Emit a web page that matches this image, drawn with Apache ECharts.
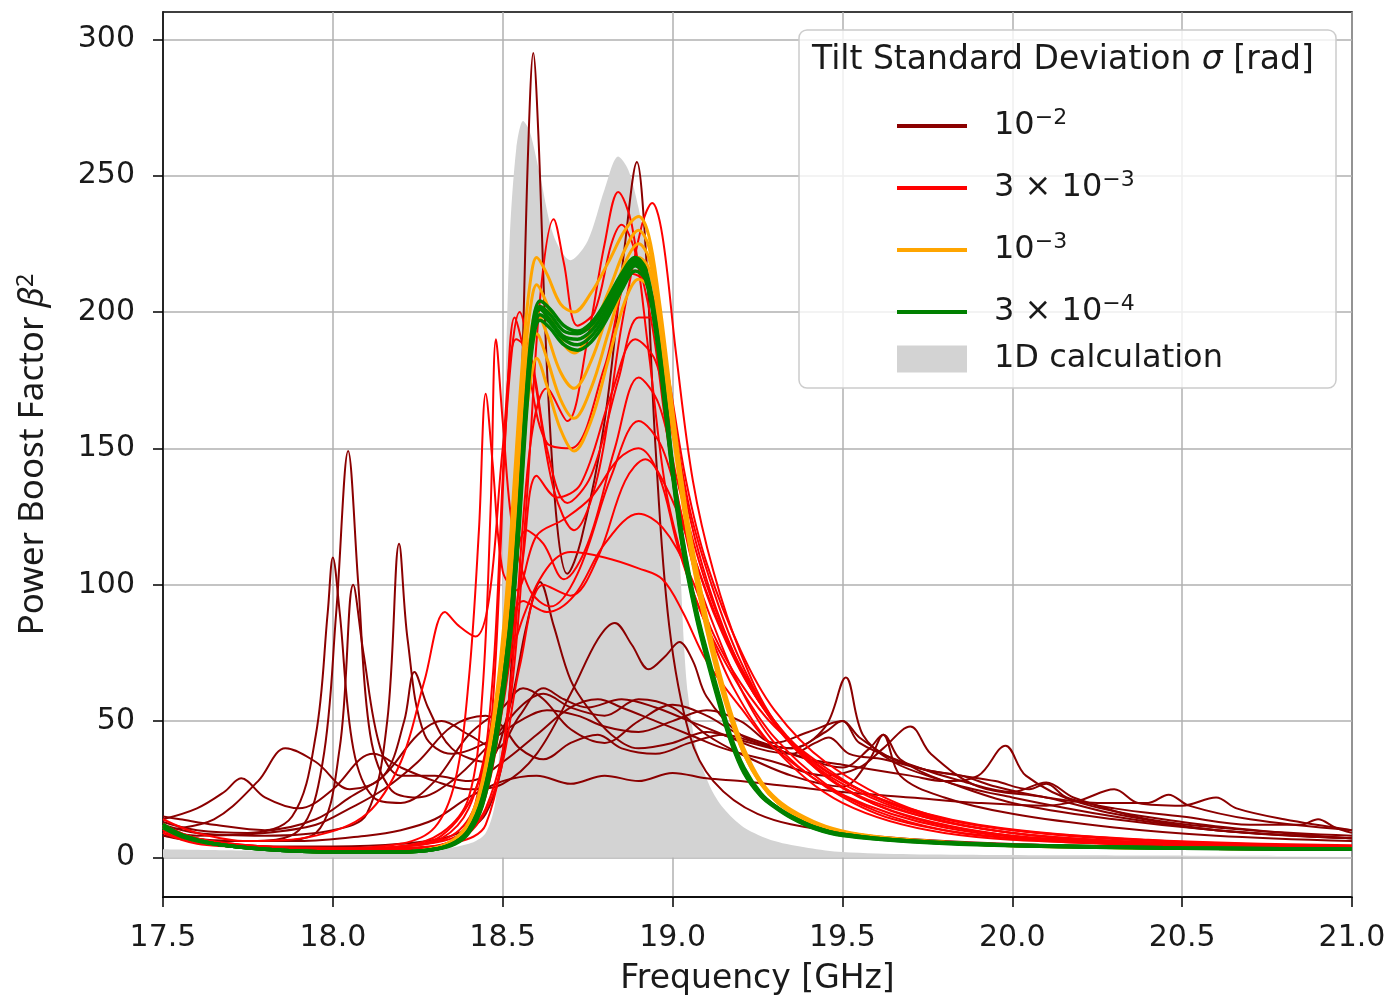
<!DOCTYPE html>
<html><head><meta charset="utf-8">
<script src="https://cdn.jsdelivr.net/npm/echarts@6/dist/echarts.min.js"></script>
<style>html,body{margin:0;padding:0;background:#fff}#c{width:1389px;height:998px}</style>
</head><body><div id="c"></div><script>
// ---- tick labels ----
const xTicks = [17.5,18.0,18.5,19.0,19.5,20.0,20.5,21.0];
const yTicks = [0,50,100,150,200,250,300];

// ---- 1D calculation (grey area) [GHz, beta^2] ----
const oneD = [[17.5,3],[17.8,2.5],[18.1,2.5],[18.3,3],[18.4,5],[18.45,9],[18.48,22],[18.495,60],[18.505,150],[18.52,225],[18.54,260],[18.56,270],[18.58,266],[18.61,250],[18.65,228],[18.70,219],[18.75,226],[18.80,245],[18.84,257],[18.87,252],[18.90,238],[18.93,218],[18.96,198],[18.99,170],[19.01,140],[19.025,100],[19.035,75],[19.045,60],[19.07,40],[19.11,26],[19.15,18],[19.21,11],[19.3,6],[19.4,3.5],[19.5,2],[19.7,1.2],[20.2,0.8],[21.0,0.5]];

// ---- sigma = 1e-2 (dark red) ----
const d1 = [[17.5,9],[17.6,6],[17.8,4],[18.0,4],[18.2,5],[18.35,8],[18.45,16],[18.51,45],[18.55,150],[18.575,260],[18.59,295],[18.605,265],[18.63,180],[18.66,122],[18.69,104],[18.73,116],[18.8,160],[18.86,225],[18.895,255],[18.92,225],[18.95,150],[18.99,85],[19.05,45],[19.12,28],[19.25,16],[19.45,10],[19.8,6],[20.3,4],[21.0,3]];
const d2 = [[17.5,11],[17.6,7],[17.75,6],[17.9,10],[17.97,35],[18.01,90],[18.045,149],[18.075,100],[18.11,45],[18.17,25],[18.25,22],[18.35,28],[18.45,40],[18.55,55],[18.62,60],[18.7,55],[18.8,52],[18.9,58],[19.0,55],[19.1,45],[19.2,38],[19.35,30],[19.5,26],[19.58,36],[19.62,45],[19.67,30],[19.8,22],[20.0,16],[20.3,11],[20.6,8],[21.0,6]];
const d3 = [[17.5,13],[17.6,10],[17.75,9],[17.88,15],[17.95,45],[17.985,90],[18.0,110],[18.02,90],[18.06,40],[18.12,22],[18.2,20],[18.3,28],[18.4,45],[18.5,55],[18.56,62],[18.62,58],[18.7,47],[18.8,42],[18.9,50],[19.0,56],[19.1,52],[19.2,45],[19.35,40],[19.45,48],[19.51,66],[19.56,45],[19.65,35],[19.8,28],[20.0,20],[20.3,14],[20.6,10],[21.0,7]];
const d4 = [[17.5,8],[17.6,6],[17.8,6],[17.95,9],[18.02,40],[18.06,100],[18.09,75],[18.14,40],[18.2,30],[18.3,30],[18.4,28],[18.5,35],[18.6,45],[18.7,55],[18.78,58],[18.85,55],[18.95,50],[19.05,45],[19.15,40],[19.3,35],[19.45,30],[19.55,33],[19.62,40],[19.7,48],[19.76,38],[19.9,26],[20.1,22],[20.3,16],[20.6,10],[21.0,7]];
const d5 = [[17.5,12],[17.6,9],[17.8,8],[18.0,10],[18.1,16],[18.16,50],[18.195,115],[18.22,80],[18.27,45],[18.35,38],[18.45,42],[18.55,50],[18.63,54],[18.72,52],[18.8,48],[18.9,46],[19.0,50],[19.1,54],[19.2,50],[19.3,42],[19.4,46],[19.5,50],[19.55,42],[19.7,34],[19.85,28],[20.0,24],[20.1,27.5],[20.18,22],[20.4,14],[20.7,10],[21.0,8]];
const d6 = [[17.5,10],[17.65,14],[17.78,28],[17.86,40],[17.95,35],[18.05,25],[18.15,30],[18.21,50],[18.24,68],[18.28,55],[18.35,40],[18.45,35],[18.52,55],[18.57,85],[18.61,101],[18.65,85],[18.7,65],[18.75,55],[18.82,45],[18.9,40],[19.0,42],[19.1,46],[19.2,43],[19.35,38],[19.5,33],[19.58,40],[19.62,45],[19.67,36],[19.8,28],[20.0,22],[20.3,15],[20.6,10],[21.0,7]];
const d7 = [[17.5,14],[17.6,18],[17.68,24],[17.73,29],[17.8,22],[17.9,18],[18.0,25],[18.08,36],[18.12,38],[18.2,33],[18.3,28],[18.4,25],[18.5,27],[18.6,38],[18.7,60],[18.78,80],[18.83,86],[18.88,78],[18.93,69],[18.98,74],[19.02,79],[19.06,72],[19.1,59],[19.2,45],[19.3,40],[19.4,36],[19.5,34],[19.6,32],[19.7,30],[19.8,28],[19.9,30],[19.98,41],[20.04,30],[20.2,20],[20.5,13],[20.8,9],[21.0,7]];
const d8 = [[17.5,8],[17.7,6],[17.9,6],[18.1,8],[18.2,10],[18.3,14],[18.4,22],[18.5,28],[18.6,30],[18.7,27],[18.8,30],[18.9,28],[19.0,31],[19.1,29],[19.2,28],[19.35,26],[19.5,24],[19.7,22],[19.9,20],[20.1,19],[20.2,21],[20.3,25],[20.37,20],[20.5,19],[20.6,22],[20.66,18],[20.8,14],[21.0,10]];
const d9 = [[17.5,15],[17.55,14],[17.65,12],[17.8,10],[17.95,14],[18.05,22],[18.15,30],[18.25,45],[18.32,50],[18.4,45],[18.48,40],[18.55,52],[18.62,62],[18.68,58],[18.75,55],[18.85,58],[18.95,55],[19.05,50],[19.15,45],[19.25,40],[19.35,38],[19.42,42],[19.46,44],[19.52,38],[19.62,36],[19.75,32],[19.85,30],[19.95,28],[20.05,25],[20.1,27],[20.16,22],[20.3,18],[20.5,15],[20.7,12],[20.85,12],[20.9,14],[20.95,11],[21.0,9]];
const d10 = [[17.5,10],[17.6,8],[17.8,9],[17.95,12],[18.05,18],[18.15,25],[18.25,35],[18.35,48],[18.45,52],[18.5,48],[18.55,40],[18.62,36],[18.7,42],[18.78,45],[18.85,40],[18.95,38],[19.05,42],[19.15,45],[19.25,42],[19.35,40],[19.45,46],[19.5,50],[19.55,44],[19.65,36],[19.75,32],[19.85,30],[19.95,26],[20.1,22],[20.25,20],[20.4,20],[20.46,23],[20.52,19],[20.7,14],[21.0,10]];

// ---- sigma = 3e-3 (red) ----
const r1 = [[17.5,10],[17.6,6],[17.8,4],[18.0,3.5],[18.2,5],[18.3,11],[18.36,28],[18.4,65],[18.43,120],[18.45,170],[18.47,145],[18.5,105],[18.54,98],[18.6,118],[18.68,124],[18.76,132],[18.84,146],[18.9,150],[18.96,140],[19.02,112],[19.1,85],[19.2,62],[19.3,44],[19.45,27],[19.6,17],[19.8,10],[20.0,7],[20.5,4],[21.0,3]];
const r2 = [[17.5,9],[17.6,5.5],[17.8,3.5],[18.0,3],[18.2,4],[18.32,9],[18.4,22],[18.44,60],[18.465,130],[18.48,190],[18.5,160],[18.53,120],[18.58,98],[18.64,92],[18.72,104],[18.82,140],[18.9,160],[18.97,150],[19.05,115],[19.15,82],[19.25,58],[19.4,35],[19.55,22],[19.75,13],[20.0,8],[20.5,4.5],[21.0,3.5]];
const r3 = [[17.5,11],[17.6,6],[17.8,3.5],[18.0,2.5],[18.2,3],[18.35,6],[18.45,18],[18.52,55],[18.57,130],[18.61,205],[18.65,234],[18.68,218],[18.72,195],[18.77,200],[18.82,225],[18.85,232],[18.89,222],[18.94,195],[18.99,150],[19.05,112],[19.1,92],[19.2,62],[19.3,42],[19.45,26],[19.65,14],[20.0,7],[20.5,4],[21.0,3]];
const r4 = [[17.5,10],[17.6,6],[17.8,3.5],[18.0,2.5],[18.2,3],[18.35,5],[18.45,12],[18.52,60],[18.58,150],[18.63,172],[18.69,160],[18.75,190],[18.8,225],[18.84,244],[18.88,232],[18.93,185],[18.98,135],[19.04,105],[19.1,85],[19.18,62],[19.3,40],[19.5,20],[19.8,9],[20.3,5],[21.0,3]];
const r5 = [[17.5,12],[17.6,7],[17.8,4],[18.0,3],[18.2,4],[18.35,8],[18.42,20],[18.47,65],[18.51,160],[18.55,200],[18.59,178],[18.65,135],[18.71,120],[18.78,140],[18.85,195],[18.91,232],[18.94,240],[18.97,228],[19.01,185],[19.06,138],[19.12,105],[19.2,75],[19.3,50],[19.45,30],[19.65,17],[20.0,8],[20.5,4.5],[21.0,3.5]];
const r6 = [[17.5,14],[17.6,9],[17.75,6],[17.95,8],[18.1,16],[18.2,35],[18.27,65],[18.33,90],[18.37,85],[18.42,81],[18.46,95],[18.5,150],[18.54,190],[18.58,185],[18.63,150],[18.69,130],[18.76,140],[18.84,175],[18.9,198],[18.94,198],[18.99,170],[19.05,128],[19.12,98],[19.2,72],[19.3,50],[19.45,32],[19.7,17],[20.0,9],[20.5,5],[21.0,3.5]];
const r7 = [[17.5,9],[17.6,5.5],[17.8,3.5],[18.0,3],[18.2,4],[18.32,8],[18.42,25],[18.5,62],[18.56,88],[18.63,106],[18.7,112],[18.8,110],[18.9,106],[18.97,102],[19.03,90],[19.1,72],[19.2,55],[19.3,40],[19.5,23],[19.8,11],[20.2,6],[21.0,3.5]];
const r8 = [[17.5,10],[17.6,6],[17.8,3.5],[18.0,2.5],[18.2,3],[18.35,6],[18.45,30],[18.52,90],[18.57,120],[18.62,115],[18.68,102],[18.75,115],[18.83,150],[18.9,176],[18.96,166],[19.02,135],[19.1,100],[19.2,70],[19.35,42],[19.5,27],[19.8,13],[20.3,6],[21.0,3.5]];
const r9 = [[17.5,11],[17.6,6.5],[17.8,4],[18.0,3],[18.2,3.5],[18.38,7],[18.48,26],[18.55,70],[18.62,100],[18.7,96],[18.78,110],[18.86,138],[18.92,146],[18.98,136],[19.05,115],[19.12,90],[19.22,64],[19.35,42],[19.5,28],[19.8,14],[20.3,7],[21.0,4]];
const r10 = [[17.5,10],[17.6,6],[17.8,3.5],[18.0,2.5],[18.2,3],[18.35,6],[18.43,15],[18.5,55],[18.56,110],[18.6,140],[18.66,132],[18.73,137],[18.82,170],[18.89,190],[18.95,182],[19.0,155],[19.07,115],[19.15,84],[19.25,58],[19.4,35],[19.6,20],[20.0,9],[20.5,5],[21.0,3.5]];
const r11 = [[17.5,12],[17.6,7],[17.8,4],[18.0,3],[18.2,4],[18.35,7],[18.42,14],[18.47,55],[18.51,160],[18.535,198],[18.57,182],[18.63,152],[18.7,150],[18.8,180],[18.88,214],[18.93,210],[18.98,182],[19.04,138],[19.1,108],[19.2,76],[19.3,54],[19.45,35],[19.7,18],[20.0,10],[20.5,5.5],[21.0,4]];
const r12 = [[17.5,9],[17.6,5],[17.8,3.5],[18.0,3],[18.2,4],[18.32,7],[18.4,18],[18.46,45],[18.51,78],[18.56,94],[18.63,90],[18.71,96],[18.8,115],[18.9,126],[18.97,121],[19.05,104],[19.12,82],[19.2,64],[19.3,48],[19.45,33],[19.6,22],[19.9,12],[20.4,6.5],[21.0,4.5]];

// ---- sigma = 1e-3 (orange) ----
const o1 = [[17.5,12],[17.56,8],[17.65,5],[17.8,3],[18.0,2],[18.2,2],[18.3,3.5],[18.36,7],[18.4,13],[18.44,28],[18.48,58],[18.51,95],[18.535,140],[18.56,185],[18.58,210],[18.6,220],[18.63,214],[18.67,203],[18.71,200],[18.76,207],[18.81,218],[18.86,230],[18.9,235],[18.93,228],[18.96,205],[18.99,175],[19.02,145],[19.05,120],[19.09,94],[19.13,72],[19.17,54],[19.21,40],[19.26,28],[19.31,21],[19.37,16],[19.45,11.5],[19.55,8.5],[19.7,6.5],[20.0,4.5],[20.5,3.5],[21.0,3]];
const o2 = [[17.5,11],[17.56,7.5],[17.65,5],[17.8,3],[18.0,2],[18.2,2],[18.3,3.3],[18.36,6.5],[18.4,12],[18.44,26],[18.48,55],[18.51,90],[18.535,133],[18.56,175],[18.58,200],[18.6,210],[18.63,203],[18.67,190],[18.71,185],[18.76,193],[18.81,207],[18.86,223],[18.9,230],[18.93,224],[18.96,202],[18.99,172],[19.02,142],[19.05,117],[19.09,92],[19.13,70],[19.17,53],[19.21,39],[19.26,27.5],[19.31,20.5],[19.37,15.5],[19.45,11],[19.55,8.3],[19.7,6.3],[20.0,4.4],[20.5,3.4],[21.0,3]];
const o3 = [[17.5,12],[17.56,8],[17.65,5],[17.8,3],[18.0,2],[18.2,2],[18.3,3.4],[18.36,6.8],[18.4,12.5],[18.44,27],[18.48,56],[18.51,90],[18.535,130],[18.56,168],[18.58,190],[18.6,200],[18.63,192],[18.67,178],[18.71,172],[18.76,182],[18.81,200],[18.86,218],[18.9,225],[18.93,220],[18.96,200],[18.99,171],[19.02,142],[19.05,117],[19.09,92],[19.13,70],[19.17,53],[19.21,39],[19.26,27.5],[19.31,20.5],[19.37,15.5],[19.45,11],[19.55,8.3],[19.7,6.3],[20.0,4.4],[20.5,3.4],[21.0,3]];
const o4 = [[17.5,11],[17.56,7.5],[17.65,5],[17.8,3],[18.0,2],[18.2,2],[18.3,3.3],[18.36,6.5],[18.4,12],[18.44,25],[18.48,52],[18.51,85],[18.535,124],[18.56,160],[18.58,182],[18.6,192],[18.63,183],[18.67,168],[18.71,161],[18.76,172],[18.81,192],[18.86,212],[18.9,220],[18.93,216],[18.96,197],[18.99,169],[19.02,140],[19.05,115],[19.09,90],[19.13,69],[19.17,52],[19.21,38],[19.26,27],[19.31,20],[19.37,15],[19.45,10.8],[19.55,8.2],[19.7,6.2],[20.0,4.3],[20.5,3.4],[21.0,3]];
const o5 = [[17.5,12],[17.56,8],[17.65,5],[17.8,3],[18.0,2],[18.2,2],[18.3,3.3],[18.36,6.5],[18.4,12],[18.44,25],[18.48,50],[18.51,82],[18.535,118],[18.56,152],[18.58,173],[18.6,183],[18.63,173],[18.67,157],[18.71,149],[18.76,160],[18.81,182],[18.86,204],[18.9,212],[18.93,209],[18.96,192],[18.99,166],[19.02,138],[19.05,114],[19.09,89],[19.13,68],[19.17,51],[19.21,38],[19.26,27],[19.31,20],[19.37,15],[19.45,10.8],[19.55,8.2],[19.7,6.2],[20.0,4.3],[20.5,3.4],[21.0,3]];

// ---- sigma = 3e-4 (green) ----
const g1 = [[17.5,12],[17.56,8],[17.65,5],[17.8,3],[18.0,2],[18.2,2],[18.3,3],[18.36,5.5],[18.4,10],[18.44,21],[18.48,45],[18.52,82],[18.545,120],[18.57,168],[18.59,194],[18.61,201],[18.64,197],[18.68,191],[18.72,190],[18.76,193],[18.8,200],[18.85,211],[18.89,218],[18.92,214],[18.95,195],[18.98,165],[19.0,142],[19.03,115],[19.07,90],[19.1,75],[19.14,57],[19.17,44],[19.21,32],[19.26,23],[19.3,19],[19.35,15],[19.42,11],[19.5,8.5],[19.7,6],[20.0,4.5],[20.5,3.5],[21.0,3]];
const g2 = [[17.5,11],[17.56,7.5],[17.65,5],[17.8,3],[18.0,2],[18.2,2],[18.3,3],[18.36,5],[18.4,9],[18.44,19],[18.48,42],[18.52,78],[18.545,115],[18.57,163],[18.59,190],[18.61,197],[18.64,194],[18.68,188],[18.72,186],[18.76,189],[18.8,196],[18.85,208],[18.89,215],[18.92,212],[18.95,193],[18.98,162],[19.0,140],[19.03,113],[19.07,88],[19.1,73],[19.14,55],[19.17,43],[19.21,31],[19.26,22.5],[19.3,18.5],[19.35,14.5],[19.42,10.5],[19.5,8],[19.7,5.8],[20.0,4.3],[20.5,3.4],[21.0,3]];
const g3 = [[17.5,12],[17.56,8],[17.65,5],[17.8,3],[18.0,2],[18.2,2],[18.3,3],[18.36,5.5],[18.4,10],[18.44,22],[18.48,46],[18.52,84],[18.545,123],[18.57,171],[18.59,197],[18.61,204],[18.64,201],[18.68,195],[18.72,193],[18.76,196],[18.8,203],[18.85,214],[18.89,220],[18.92,216],[18.95,197],[18.98,167],[19.0,144],[19.03,117],[19.07,91],[19.1,76],[19.14,58],[19.17,45],[19.21,33],[19.26,23.5],[19.3,19],[19.35,15],[19.42,11],[19.5,8.5],[19.7,6],[20.0,4.5],[20.5,3.5],[21.0,3]];
const g4 = [[17.5,11],[17.56,7.5],[17.65,5],[17.8,3],[18.0,2],[18.2,2],[18.3,3],[18.36,5.2],[18.4,9.5],[18.44,20],[18.48,44],[18.52,80],[18.545,118],[18.57,166],[18.59,192],[18.61,199],[18.64,196],[18.68,190],[18.72,188],[18.76,191],[18.8,198],[18.85,210],[18.89,217],[18.92,213],[18.95,194],[18.98,164],[19.0,141],[19.03,114],[19.07,89],[19.1,74],[19.14,56],[19.17,43.5],[19.21,31.5],[19.26,22.8],[19.3,18.7],[19.35,14.7],[19.42,10.7],[19.5,8.2],[19.7,5.9],[20.0,4.4],[20.5,3.4],[21.0,3]];
const g5 = [[17.5,12],[17.56,8],[17.65,5],[17.8,3],[18.0,2],[18.2,2],[18.3,3],[18.36,5.6],[18.4,10.2],[18.44,21.5],[18.48,46],[18.52,83],[18.545,121],[18.57,169],[18.59,195],[18.61,202],[18.64,199],[18.68,193],[18.72,192],[18.76,195],[18.8,202],[18.85,213],[18.89,219],[18.92,215],[18.95,196],[18.98,166],[19.0,143],[19.03,116],[19.07,90],[19.1,75],[19.14,57],[19.17,44],[19.21,32],[19.26,23],[19.3,19],[19.35,15],[19.42,11],[19.5,8.5],[19.7,6],[20.0,4.5],[20.5,3.5],[21.0,3]];

const groups = [
  {name:'10^-2',   base:'10',    sup:'−2', color:'#8b0000', width:2,   curves:[d1,d2,d3,d4,d5,d6,d7,d8,d9,d10]},
  {name:'3×10^-3', base:'3 × 10', sup:'−3', color:'#ff0000', width:2,   curves:[r1,r2,r3,r4,r5,r6,r7,r8,r9,r10,r11,r12]},
  {name:'10^-3',   base:'10',    sup:'−3', color:'#ffa500', width:3,   curves:[o1,o2,o3,o4,o5]},
  {name:'3×10^-4', base:'3 × 10', sup:'−4', color:'#008000', width:3.5, curves:[g1,g2,g3,g4,g5]}
];

const series = [{
  type:'line', name:'1D calculation', data: oneD, symbol:'none', smooth:0.3,
  lineStyle:{width:0, color:'#d3d3d3'}, itemStyle:{color:'#d3d3d3'},
  areaStyle:{color:'#d3d3d3', opacity:1}, z:1, silent:true
}];
groups.forEach(g => g.curves.forEach(c => series.push({
  type:'line', name:g.name, data:c, symbol:'none', showSymbol:false, smooth:0.35,
  lineStyle:{color:g.color, width:g.width}, itemStyle:{color:g.color}, z:2, silent:true
})));

const TXT = '#1a1a1a';
const chart = echarts.init(document.getElementById('c'), null, {renderer:'canvas'});
chart.setOption({
  animation:false,
  backgroundColor:'#ffffff',
  grid:{left:163, right:37, top:12, bottom:101, show:true, borderColor:'#000', borderWidth:1.5, backgroundColor:'transparent', containLabel:false, outerBoundsMode:'none'},
  xAxis:{
    type:'value', min:17.5, max:21.0, interval:0.5,
    axisLine:{show:true, onZero:false, lineStyle:{color:'#000', width:1.5}},
    axisTick:{show:true, length:10, lineStyle:{color:'#000', width:1.5}},
    axisLabel:{margin:26, fontSize:30, fontFamily:'DejaVu Sans', color:TXT, formatter:v=>v.toFixed(1), showMinLabel:true, showMaxLabel:true},
    splitLine:{show:true, lineStyle:{color:'#b0b0b0', width:1.5}},
    name:'Frequency [GHz]', nameLocation:'middle', nameGap:66,
    nameTextStyle:{fontSize:33, fontFamily:'DejaVu Sans', color:TXT}
  },
  yAxis:{
    type:'value', min:-14.5, max:310,
    axisLine:{show:true, onZero:false, lineStyle:{color:'#000', width:1.5}},
    axisTick:{show:true, length:10, lineStyle:{color:'#000', width:1.5}, customValues:yTicks},
    axisLabel:{margin:28, fontSize:30, fontFamily:'DejaVu Sans', color:TXT, customValues:yTicks},
    splitLine:{show:true, lineStyle:{color:'#b0b0b0', width:1.5}},
    name:'Power Boost Factor {i|β}{s|2}', nameLocation:'middle', nameGap:110, nameRotate:90,
    nameTextStyle:{fontSize:35, fontFamily:'Noto Sans', color:TXT,
      rich:{i:{fontSize:35, fontFamily:'Noto Sans', fontStyle:'italic', color:TXT}, s:{fontSize:24, fontFamily:'Noto Sans', color:TXT, padding:[0,0,15,0]}}}
  },
  legend:[{
    data: groups.map(g=>({name:g.name, icon:'rect', itemStyle:{color:g.color}})),
    orient:'vertical', left:897, top:107, itemWidth:70, itemHeight:4, itemGap:27, padding:0, z:120,
    selectedMode:false,
    formatter: n => { const g = groups.find(q=>q.name===n); return '{b|'+g.base+'}{s|'+g.sup+'}'; },
    textStyle:{fontSize:32, fontFamily:'DejaVu Sans', color:TXT,
      rich:{b:{fontSize:32, fontFamily:'DejaVu Sans', color:TXT, padding:[0,0,0,22]},
            s:{fontSize:22, fontFamily:'DejaVu Sans', color:TXT, padding:[0,0,16,0]}}}
  },{
    data:[{name:'1D calculation', icon:'rect', itemStyle:{color:'#d3d3d3'}}],
    orient:'vertical', left:897, top:343, itemWidth:70, itemHeight:27, padding:0, z:120, selectedMode:false,
    textStyle:{fontSize:32, fontFamily:'DejaVu Sans', color:TXT, padding:[0,0,0,22]}
  }],
  graphic:[
    {type:'rect', shape:{x:799, y:30, width:537, height:358, r:8}, style:{fill:'rgba(255,255,255,0.8)', stroke:'#cccccc', lineWidth:1.5}, z:100},
    {type:'text', x:812, y:60, z:110, style:{text:'Tilt Standard Deviation {i|σ} [rad]', fontSize:33, fontFamily:'DejaVu Sans', fill:TXT, verticalAlign:'middle',
      rich:{i:{fontSize:33, fontFamily:'DejaVu Sans', fontStyle:'italic', fill:TXT}}}}
  ],
  series: series
});
</script></body></html>
